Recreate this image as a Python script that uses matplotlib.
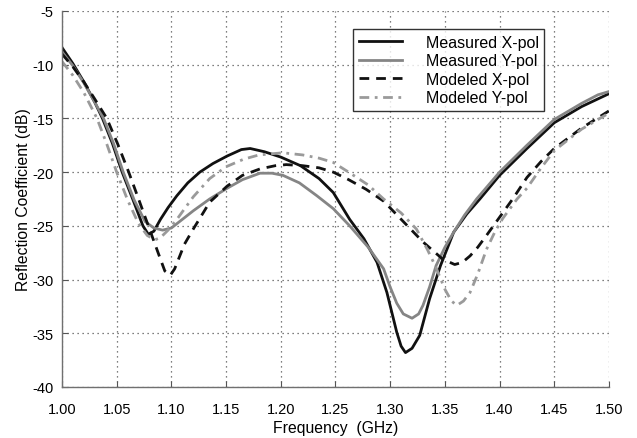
import matplotlib
matplotlib.use("Agg")
import matplotlib.pyplot as plt

# -----------------------------
# Data
# -----------------------------
freq_meas_x = [1.000, 1.010, 1.020, 1.030, 1.037, 1.046, 1.055, 1.065, 1.074, 1.079,
               1.084, 1.090, 1.097, 1.105, 1.115, 1.126, 1.138, 1.151, 1.164, 1.172,
               1.185, 1.200, 1.218, 1.235, 1.248, 1.263, 1.276, 1.288, 1.297, 1.306,
               1.310, 1.314, 1.320, 1.327, 1.336, 1.346, 1.358, 1.370, 1.382, 1.400,
               1.425, 1.450, 1.475, 1.500]
db_meas_x = [-8.4, -9.9, -11.6, -13.5, -15.0, -17.3, -20.0, -22.6, -25.0, -25.8,
             -25.5, -24.4, -23.3, -22.2, -21.0, -20.0, -19.2, -18.5, -17.9, -17.8,
             -18.1, -18.6, -19.4, -20.6, -21.9, -24.4, -26.2, -28.4, -31.2, -34.9,
             -36.2, -36.8, -36.4, -35.2, -31.8, -28.7, -25.6, -23.9, -22.5, -20.3,
             -17.8, -15.4, -13.9, -12.7]

freq_meas_y = [1.000, 1.010, 1.020, 1.030, 1.038, 1.047, 1.056, 1.066, 1.076, 1.084,
               1.092, 1.100, 1.110, 1.120, 1.135, 1.151, 1.165, 1.181, 1.192, 1.202,
               1.217, 1.233, 1.248, 1.263, 1.280, 1.294, 1.300, 1.306, 1.312, 1.320,
               1.326, 1.330, 1.336, 1.342, 1.350, 1.358, 1.368, 1.379, 1.400, 1.425,
               1.450, 1.475, 1.490, 1.500]
db_meas_y = [-8.8, -10.1, -11.7, -13.5, -15.0, -17.3, -20.0, -22.6, -24.6, -25.2,
             -25.4, -25.2, -24.4, -23.6, -22.5, -21.5, -20.7, -20.1, -20.1, -20.3,
             -21.0, -22.2, -23.4, -25.0, -27.0, -29.0, -30.7, -32.2, -33.2, -33.6,
             -33.2, -32.4, -30.7, -28.7, -27.0, -25.6, -24.0, -22.5, -20.0, -17.5,
             -15.1, -13.6, -12.8, -12.5]

freq_mod_x = [1.000, 1.010, 1.020, 1.030, 1.041, 1.051, 1.061, 1.070, 1.080, 1.090,
              1.094, 1.099, 1.103, 1.112, 1.120, 1.135, 1.151, 1.165, 1.181, 1.195,
              1.205, 1.220, 1.235, 1.248, 1.262, 1.278, 1.294, 1.312, 1.330, 1.348,
              1.359, 1.366, 1.373, 1.380, 1.388, 1.400, 1.412, 1.425, 1.438, 1.450,
              1.475, 1.500]
db_mod_x = [-9.0, -10.2, -11.6, -13.2, -15.0, -17.4, -20.0, -22.5, -25.3, -28.1,
            -29.2, -29.6, -29.0, -26.7, -25.3, -22.8, -21.3, -20.3, -19.7, -19.4,
            -19.3, -19.4, -19.6, -20.0, -20.7, -21.6, -22.7, -24.6, -26.5, -28.1,
            -28.6, -28.4, -27.8, -27.0, -25.9, -24.2, -22.5, -20.5, -19.0, -17.8,
            -15.9, -14.3]

freq_mod_y = [1.000, 1.010, 1.020, 1.032, 1.041, 1.050, 1.060, 1.070, 1.078, 1.085,
              1.090, 1.097, 1.105, 1.120, 1.135, 1.150, 1.166, 1.180, 1.202, 1.220,
              1.235, 1.248, 1.262, 1.280, 1.294, 1.310, 1.324, 1.334, 1.342, 1.350,
              1.356, 1.361, 1.367, 1.373, 1.380, 1.388, 1.396, 1.403, 1.416, 1.425,
              1.438, 1.450, 1.475, 1.500]
db_mod_y = [-9.7, -11.0, -12.6, -15.0, -17.4, -20.0, -22.6, -24.8, -25.9, -26.3,
            -26.1, -25.4, -24.4, -22.3, -20.6, -19.5, -18.8, -18.4, -18.2, -18.4,
            -18.7, -19.1, -20.0, -21.2, -22.5, -23.8, -25.3, -27.2, -28.9, -30.9,
            -32.0, -32.4, -32.0, -31.2, -29.5, -27.2, -25.5, -24.3, -22.5, -21.5,
            -19.6, -18.0, -16.0, -14.5]

x_ticks = [1.00, 1.05, 1.10, 1.15, 1.20, 1.25, 1.30, 1.35, 1.40, 1.45, 1.50]
y_ticks = [-40, -35, -30, -25, -20, -15, -10, -5]

# -----------------------------
# Plot
# -----------------------------
plt.rcParams["font.family"] = ["Liberation Sans", "DejaVu Sans"]
plt.rcParams["axes.unicode_minus"] = False

fig = plt.figure(figsize=(6.37, 4.39), dpi=100)
ax = fig.add_axes([0.0973, 0.1162, 0.8587, 0.8565])

lw = 2.0
ax.plot(freq_meas_x, db_meas_x, color="#111111", lw=lw, label="Measured X-pol")
ax.plot(freq_meas_y, db_meas_y, color="#858585", lw=lw, label="Measured Y-pol")
ax.plot(freq_mod_x, db_mod_x, color="#111111", lw=lw, dashes=(3.5, 2.5),
        label="Modeled X-pol")
ax.plot(freq_mod_y, db_mod_y, color="#9a9a9a", lw=lw, dashes=(3.5, 2, 1, 2),
        label="Modeled Y-pol")

ax.set_xlim(1.0, 1.5)
ax.set_ylim(-40, -5)
ax.set_xticks(x_ticks)
ax.set_xticklabels([f"{t:.2f}" for t in x_ticks])
ax.set_yticks(y_ticks)
ax.tick_params(direction="in", length=4, width=0.8, labelsize=10.5,
               colors="#555555", labelcolor="black")
ax.tick_params(axis="x", pad=11)
ax.tick_params(axis="y", pad=6)

ax.grid(True, color="#555555", linestyle=(0, (1, 3)), lw=0.9)
for side in ("top", "right"):
    ax.spines[side].set_visible(False)
for side in ("left", "bottom"):
    ax.spines[side].set_color("#707070")
    ax.spines[side].set_linewidth(1.0)

ax.set_xlabel("Frequency  (GHz)", fontsize=11.3, labelpad=3)
ax.set_ylabel("Reflection Coefficient (dB)", fontsize=11.3, labelpad=1)

leg = ax.legend(loc="upper left", bbox_to_anchor=(0.532, 0.952), fontsize=11.5,
                frameon=True, fancybox=False, edgecolor="black",
                handlelength=2.7, handletextpad=1.5, labelspacing=0.22,
                borderpad=0.35, borderaxespad=0)
leg.get_frame().set_linewidth(1.0)

fig.savefig("out.png", dpi=100)
